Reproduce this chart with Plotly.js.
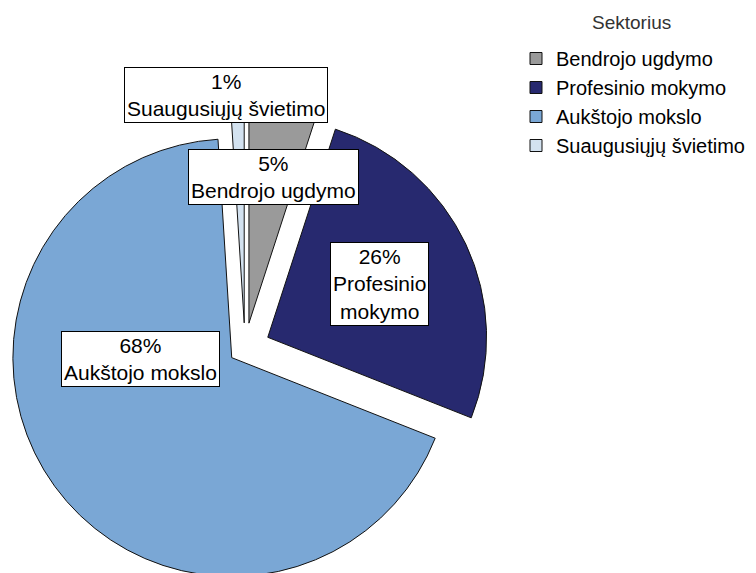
<!DOCTYPE html>
<html>
<head>
<meta charset="utf-8">
<script src="https://cdn.plot.ly/plotly-3.0.1.min.js"></script>
<style>
  html, body { margin: 0; padding: 0; background: #ffffff; overflow: hidden; }
  #chart { width: 756px; height: 600px; }
</style>
</head>
<body>
<div id="chart"></div>
<script>
// ---- data ----
const categories = ["Bendrojo ugdymo", "Profesinio mokymo", "Aukštojo mokslo", "Suaugusiųjų švietimo"];
const shares = [5, 26, 68, 1];                 // percent of total
const boxLabels = ["Bendrojo ugdymo", "Profesinio<br>mokymo", "Aukštojo mokslo", "Suaugusiųjų švietimo"];
const legendTitle = "Sektorius";

// ---- styles ----
const colors = ["#9a9a9a", "#27296f", "#7aa7d5", "#d3e2f0"];
const pulls = [0.115, 0.115, 0.075, 0.115];
const FONT = "Liberation Sans, Arial, sans-serif";

// plot-area geometry (pixels)
const W = 756, H = 600;
const M = { l: 1, r: 267, t: 104, b: 8 };
const PW = W - M.l - M.r, PH = H - M.t - M.b;
const toPx = x => (x - M.l) / PW;
const toPy = y => 1 - (y - M.t) / PH;

// label box centres (pixels), in category order
const labelPos = [[273, 177], [379, 284], [140, 359], [226, 95]];

const total = shares.reduce((a, b) => a + b, 0);
const pct = shares.map(v => Math.round(v / total * 100));

const trace = {
  type: "pie",
  labels: categories,
  values: shares,
  sort: false,
  direction: "clockwise",
  rotation: 0,
  pull: pulls,
  marker: { colors: colors, line: { color: "#111111", width: 1 } },
  textinfo: "none",
  hoverinfo: "label+percent",
  showlegend: true
};

const annotations = categories.map((c, i) => ({
  xref: "paper", yref: "paper",
  x: toPx(labelPos[i][0]), y: toPy(labelPos[i][1]),
  xanchor: "center", yanchor: "middle",
  text: pct[i] + "%<br>" + boxLabels[i],
  showarrow: false,
  align: "center",
  font: { family: FONT, size: 21, color: "#000000" },
  bgcolor: "#ffffff",
  bordercolor: "#000000",
  borderwidth: 1,
  borderpad: 2
}));

// legend heading
annotations.push({
  xref: "paper", yref: "paper",
  x: toPx(631), y: toPy(22),
  xanchor: "center", yanchor: "middle",
  text: legendTitle,
  showarrow: false,
  font: { family: FONT, size: 19, color: "#333333" }
});

const layout = {
  width: W, height: H,
  margin: { l: M.l, r: M.r, t: M.t, b: M.b, autoexpand: false },
  paper_bgcolor: "#ffffff",
  plot_bgcolor: "#ffffff",
  font: { family: FONT, size: 20, color: "#000000" },
  showlegend: true,
  legend: {
    x: toPx(516), xanchor: "left",
    y: toPy(39), yanchor: "top",
    bgcolor: "rgba(0,0,0,0)",
    font: { family: FONT, size: 20, color: "#000000" },
    traceorder: "normal"
  },
  annotations: annotations
};

Plotly.newPlot("chart", [trace], layout, { displayModeBar: false, staticPlot: true });
</script>
</body>
</html>
